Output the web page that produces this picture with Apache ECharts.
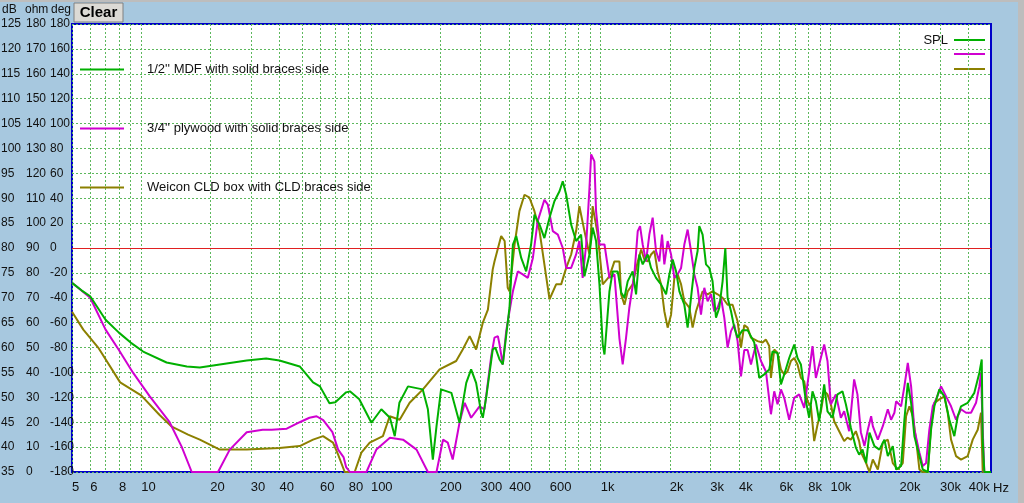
<!DOCTYPE html>
<html>
<head>
<meta charset="utf-8">
<script src="https://cdn.jsdelivr.net/npm/echarts@6/dist/echarts.min.js"></script>
<style>
html,body{margin:0;padding:0;background:#a7c8df;}
#chart{width:1024px;height:503px;}
</style>
</head>
<body>
<div id="chart"></div>
<script>
// names + colours
var names = ["1/2'' MDF with solid braces side", "3/4'' plywood with solid braces side", "Weicon CLD box with CLD braces side"];
var colors = ['#00b000', '#d000d0', '#8c8000'];

// x tick labels (Hz)
var xTickHz = [5, 6, 8, 10, 20, 30, 40, 60, 80, 100, 200, 300, 400, 600, 1000, 2000, 3000, 4000, 6000, 8000, 10000, 20000, 30000, 40000];
var xTickText = ['5', '6', '8', '10', '20', '30', '40', '60', '80', '100', '200', '300', '400', '600', '1k', '2k', '3k', '4k', '6k', '8k', '10k', '20k', '30k', '40k'];

// 1/2'' MDF (green)
var mdfHz = [5, 5.5, 6, 7, 8, 9, 10.2, 12.9, 15.8, 18, 22, 28.8, 35, 40, 49, 56, 60, 66, 70, 78, 81, 89, 100.5, 111, 121, 127, 133, 145, 168, 177, 186, 193, 202, 224, 243, 260, 273, 287, 302, 307, 318, 339, 348, 363, 375, 401, 415, 429, 451, 474, 498, 515, 542, 569, 599, 629, 662, 684, 708, 744, 782, 822, 850, 894, 923, 955, 988, 1021, 1039, 1092, 1128, 1186, 1230, 1269, 1311, 1378, 1426, 1474, 1524, 1602, 1657, 1742, 1831, 1926, 1991, 2058, 2129, 2201, 2313, 2391, 2473, 2557, 2642, 2687, 2778, 2874, 2971, 3070, 3177, 3284, 3394, 3488, 3569, 3693, 3816, 3944, 4147, 4360, 4662, 4901, 5152, 5417, 5599, 5887, 6091, 6295, 6617, 6958, 7191, 7440, 7822, 8085, 8356, 8646, 8937, 9396, 9712, 10209, 10732, 11285, 11676, 12274, 12902, 13337, 13800, 14305, 14785, 15543, 16340, 17180, 17775, 18687, 19318, 20307, 20988, 21718, 22450, 23201, 24396, 25234, 26530, 27420, 28344, 29800, 31330, 32935, 34622, 35823, 37028, 39594, 42309, 44479, 45565, 46020, 46766, 50000];
var mdfDb = [73.0, 71.5, 70.3, 65.6, 63, 61, 59.2, 57.0, 56.2, 56.0, 56.6, 57.4, 57.8, 57.4, 56.2, 53.0, 52.2, 48.8, 49.0, 51.0, 51.2, 49.6, 44.9, 47.6, 45.9, 42.2, 48.9, 52.2, 51.6, 47.6, 37.5, 44.2, 51.6, 50.9, 44.9, 52.9, 55.6, 52.9, 46.9, 45.9, 50.2, 59.6, 60.0, 57.6, 56.6, 68.0, 80.7, 82.4, 78.0, 75.3, 80.7, 86.7, 84.7, 82.0, 86.1, 89.4, 91.4, 93.4, 90.7, 84.7, 81.4, 82.7, 74.3, 78.7, 84.1, 81.4, 72.7, 60.6, 58.6, 71.3, 75.3, 75.3, 71.0, 70.0, 73.3, 75.3, 70.7, 78.7, 76.7, 78.7, 76.0, 74.0, 72.7, 70.7, 74.7, 77.7, 75.3, 71.3, 68.6, 64.0, 70.0, 76.0, 79.4, 84.4, 82.7, 76.7, 76.0, 73.3, 66.0, 68.0, 73.3, 80.0, 70.0, 67.3, 64.0, 62.0, 63.5, 63.5, 61.0, 53.9, 54.6, 55.6, 59.2, 58.9, 52.6, 54.6, 57.9, 60.6, 57.9, 56.6, 49.2, 45.9, 51.2, 49.2, 45.2, 52.6, 47.2, 45.9, 50.6, 51.2, 48.6, 43.9, 39.9, 38.5, 39.5, 36.8, 42.9, 40.2, 39.5, 41.5, 38.2, 40.2, 35.5, 36.2, 45.5, 52.9, 48.9, 42.2, 38.2, 35.5, 35, 43.5, 48.2, 51.6, 50.2, 45.5, 42.2, 46.2, 48.2, 48.9, 50.9, 54.9, 57.6, 41.5, 35, 35];

// 3/4'' plywood (magenta)
var plyHz = [5, 6, 7, 8, 9.2, 10.9, 13.3, 15, 16.6, 21.6, 24.3, 28.8, 33.8, 37, 43, 49, 54, 58, 62, 68, 72, 76, 78, 81, 95.6, 105.6, 121, 138, 158, 177, 193, 206, 216, 227, 243, 256, 273, 297, 312, 334, 345, 357, 363, 375, 388, 401, 415, 436, 458, 482, 507, 532, 569, 589, 619, 651, 684, 708, 744, 782, 808, 835, 865, 894, 909, 939, 955, 988, 1039, 1092, 1148, 1207, 1247, 1290, 1333, 1402, 1450, 1484, 1524, 1576, 1629, 1684, 1742, 1800, 1850, 1893, 1957, 2025, 2093, 2163, 2239, 2313, 2391, 2473, 2557, 2642, 2733, 2826, 2921, 3022, 3123, 3228, 3340, 3452, 3569, 3693, 3816, 3944, 4081, 4218, 4360, 4510, 4742, 4985, 5240, 5510, 5695, 5887, 6091, 6295, 6617, 6958, 7314, 7691, 8085, 8356, 8646, 8937, 9396, 9712, 10047, 10563, 11104, 11478, 12066, 12685, 13111, 13566, 14063, 14550, 15040, 15297, 16082, 16906, 17775, 18371, 18990, 19318, 20307, 20988, 21718, 22450, 23201, 24396, 25234, 26080, 26955, 27890, 28830, 30313, 31862, 33500, 35218, 37028, 38926, 40926, 43036, 44479, 45243, 46020, 46766, 50000];
var plyDb = [73.0, 70.0, 63.6, 59.5, 55, 50.2, 45, 40.1, 35, 35, 39.5, 43, 43.5, 43.5, 43.7, 45, 45.9, 46.2, 45.4, 43, 39.5, 38, 36, 35, 35, 39.5, 41.9, 41.5, 39.5, 35, 35, 41.5, 40.9, 37.5, 44.9, 48.9, 45.9, 48.2, 47.6, 58.3, 62.0, 62.3, 60.6, 56.6, 63.3, 67.3, 71.3, 75.3, 74.7, 74.0, 78.0, 85.4, 89.7, 88.7, 83.4, 82.7, 80.0, 76.0, 76.0, 78.7, 81.4, 74.0, 80.7, 92.1, 98.8, 97.4, 87.4, 80.7, 80.7, 74.0, 74.7, 61.8, 56.6, 62.0, 68.0, 74.7, 83.4, 84.4, 80.7, 77.3, 82.7, 86.1, 79.4, 77.3, 82.7, 76.7, 81.4, 78.7, 74.0, 74.7, 76.0, 80.7, 83.7, 79.4, 74.7, 72.0, 66.6, 72.0, 69.3, 70.7, 67.3, 68.0, 70.0, 66.0, 60.0, 63.3, 64.6, 61.3, 54.2, 59.5, 59.5, 56.6, 60.6, 57.3, 55.2, 46.6, 51.2, 48.6, 51.6, 49.9, 45.5, 49.9, 50.6, 47.9, 55.2, 60.3, 53.9, 56.6, 60.6, 57.3, 48.6, 50.6, 45.9, 47.2, 43.2, 53.6, 50.6, 43.0, 40.2, 43.5, 46.2, 44.2, 41.5, 44.2, 47.6, 45.5, 46.9, 49.2, 48.2, 52.2, 56.9, 52.2, 43.5, 38.9, 36.2, 36.8, 43.5, 48.2, 49.6, 52.2, 50.2, 48.2, 45.5, 47.6, 46.9, 46.9, 48.9, 52.2, 54.9, 43.5, 35, 35];

// Weicon CLD (olive)
var cldHz = [5, 5.6, 6.5, 8.1, 10, 12, 13.6, 16, 18, 22, 28.8, 40, 49, 56, 61.9, 68.4, 72, 76.9, 85, 90.9, 98.8, 112.8, 120.7, 133.4, 147.4, 168.4, 199, 235, 251, 269, 287, 307, 323, 339, 345, 369, 382, 394, 401, 422, 443, 466, 490, 515, 542, 569, 599, 640, 673, 708, 744, 782, 808, 850, 894, 923, 971, 1021, 1092, 1148, 1207, 1227, 1269, 1311, 1378, 1450, 1500, 1550, 1602, 1657, 1713, 1770, 1831, 1893, 1957, 2025, 2093, 2163, 2239, 2313, 2432, 2514, 2601, 2687, 2778, 2921, 3070, 3228, 3394, 3569, 3752, 3944, 4081, 4218, 4360, 4510, 4818, 5066, 5240, 5417, 5510, 5695, 5887, 6091, 6295, 6505, 6731, 6958, 7191, 7440, 7691, 7949, 8224, 8500, 8786, 9091, 9396, 9712, 10047, 10384, 10917, 11478, 11863, 12274, 12902, 13337, 13607, 14305, 14785, 15297, 16082, 16906, 17775, 18687, 19646, 20655, 21351, 22070, 22837, 23600, 24396, 25234, 26530, 27420, 28344, 29800, 31330, 32410, 33500, 35218, 37028, 39594, 41632, 43775, 45243, 46020, 50000];
var cldDb = [67.2, 63.6, 60, 53, 50.4, 46.5, 44.1, 42.5, 41.5, 39.5, 39.5, 39.8, 40.2, 41.5, 42.2, 40.9, 38.5, 35, 35, 38.9, 40.9, 42.2, 46.2, 45.5, 48.9, 51.6, 55.6, 57.3, 59.6, 62.3, 59.6, 65, 67.6, 75.7, 77.3, 82.4, 81.4, 72.0, 71.3, 80.7, 87.4, 90.7, 90.1, 87.4, 83.4, 76.7, 69.7, 72.7, 72.7, 76.0, 78.7, 83.4, 88.4, 83.4, 78.7, 88.4, 82.7, 72.7, 74.3, 77.3, 77.3, 70.7, 68.6, 71.3, 72.7, 77.3, 79.7, 77.7, 77.3, 78.7, 79.4, 75.3, 72.7, 67.3, 64.0, 66.6, 74.0, 74.7, 72.7, 69.3, 68.0, 64.0, 67.3, 69.3, 71.3, 70.7, 71.3, 70.7, 70.0, 68.6, 68.6, 65.3, 60.0, 64.5, 64.0, 62.0, 61.3, 61.0, 61.6, 60.3, 53.9, 59.6, 58.9, 55.6, 54.6, 55.2, 57.3, 57.9, 56.6, 53.9, 53.2, 49.2, 48.2, 41.2, 44.5, 47.2, 51.2, 50.6, 48.6, 45.2, 43.2, 41.2, 41.9, 41.5, 43.2, 41.2, 38.9, 36.8, 35, 37.5, 35.5, 40.9, 41.5, 36.8, 35.5, 36.8, 46.2, 48.2, 46.2, 41.5, 35.5, 35, 35, 44.2, 48.9, 49.6, 50.2, 46.9, 41.5, 38.2, 37.5, 38.2, 41.5, 43.5, 46.9, 35, 35];

var font = 'Liberation Sans, Arial, sans-serif';

// vertical grid lines 1..9 per decade, 5 Hz to 40 kHz
var xGridHz = [];
for (var dec = 1; dec <= 10000; dec *= 10) {
    for (var m = 1; m <= 9; m++) {
        if (m * dec >= 5 && m * dec < 50000) xGridHz.push(m * dec);
    }
}
function lg(v) { return Math.log10(v); }
function pairs(hz, db) { return hz.map(function (h, i) { return [h, db[i]]; }); }

var gridLine = {show: true, lineStyle: {color: '#5cb85c', width: 1, type: [2, 2]}};

var myChart = echarts.init(document.getElementById('chart'));

var seriesList = [
    {name: names[2], hz: cldHz, db: cldDb, c: colors[2]},
    {name: names[1], hz: plyHz, db: plyDb, c: colors[1]},
    {name: names[0], hz: mdfHz, db: mdfDb, c: colors[0]}
].map(function (s, i) {
    var o = {
        name: s.name, type: 'line', xAxisIndex: 0, yAxisIndex: 0,
        data: pairs(s.hz, s.db), symbol: 'none', showSymbol: false, clip: false,
        color: s.c, lineStyle: {color: s.c, width: 2}, animation: false, z: 3 + i
    };
    if (i === 0) {
        // 0 deg reference line
        o.markLine = {silent: true, symbol: ['none', 'none'], label: {show: false},
            lineStyle: {color: '#e02020', width: 1, type: 'solid'}, data: [{yAxis: 80}]};
    }
    return o;
});

var option = {
    backgroundColor: '#a7c8df',
    animation: false,
    textStyle: {fontFamily: font},
    grid: {left: 72, top: 24, width: 919, height: 448, show: true, backgroundColor: '#ffffff',
        borderColor: '#0000c8', borderWidth: 2, outerBoundsMode: 'none'},
    legend: {
        orient: 'vertical', left: 75, top: 58, itemWidth: 44, itemHeight: 2, icon: 'rect', itemGap: 46,
        data: names, selectedMode: false,
        textStyle: {fontFamily: font, fontSize: 13, color: '#111', padding: [0, 0, 0, 18]}
    },
    xAxis: [
        {type: 'log', logBase: 10, min: 5, max: 50000, show: false},
        {type: 'value', min: lg(5), max: lg(50000), position: 'bottom',
            axisLine: {show: false},
            axisTick: {show: false, customValues: xGridHz.map(lg)},
            axisLabel: {customValues: xTickHz.map(lg), align: 'left', margin: 9, fontSize: 13, color: '#111', fontFamily: font,
                formatter: function (v) {
                    for (var i = 0; i < xTickHz.length; i++) {
                        if (Math.abs(lg(xTickHz[i]) - v) < 1e-6) return xTickText[i];
                    }
                    return '';
                }},
            splitLine: gridLine}
    ],
    yAxis: [
        {type: 'value', min: 35, max: 125, interval: 5, position: 'left',
            axisLine: {show: false}, axisTick: {show: false}, splitLine: gridLine,
            axisLabel: {align: 'left', margin: 71, fontSize: 12, color: '#111', fontFamily: font}},
        {type: 'value', min: 0, max: 180, interval: 10, position: 'left',
            axisLine: {show: false}, axisTick: {show: false}, splitLine: {show: false},
            axisLabel: {align: 'left', margin: 46, fontSize: 12, color: '#111', fontFamily: font}},
        {type: 'value', min: -180, max: 180, interval: 20, position: 'left',
            axisLine: {show: false}, axisTick: {show: false}, splitLine: {show: false},
            axisLabel: {align: 'left', margin: 22, fontSize: 12, color: '#111', fontFamily: font}}
    ],
    graphic: [
        // window frame
        {type: 'rect', shape: {x: 0, y: 0, width: 1024, height: 2}, style: {fill: '#bdbdbd'}, silent: true},
        {type: 'rect', shape: {x: 1018, y: 0, width: 6, height: 503}, style: {fill: '#bdbdbd'}, silent: true},
        // axis headers
        {type: 'text', x: 2, y: 10, style: {text: 'dB', fill: '#111', font: '12px ' + font, verticalAlign: 'middle'}},
        {type: 'text', x: 25, y: 10, style: {text: 'ohm', fill: '#111', font: '12px ' + font, verticalAlign: 'middle'}},
        {type: 'text', x: 51, y: 10, style: {text: 'deg', fill: '#111', font: '12px ' + font, verticalAlign: 'middle'}},
        {type: 'text', x: 993, y: 488, style: {text: 'Hz', fill: '#111', font: '13px ' + font, verticalAlign: 'middle'}},
        // Clear button
        {type: 'rect', shape: {x: 74, y: 3, width: 49, height: 19}, style: {fill: '#dcdad5', stroke: '#808080', lineWidth: 1}},
        {type: 'text', x: 98.5, y: 13, style: {text: 'Clear', fill: '#000', font: 'bold 15px ' + font, align: 'center', verticalAlign: 'middle'}},
        // SPL key
        {type: 'text', x: 948, y: 40, style: {text: 'SPL', fill: '#111', font: '13px ' + font, align: 'right', verticalAlign: 'middle'}},
        {type: 'line', shape: {x1: 954, y1: 40, x2: 985, y2: 40}, style: {stroke: colors[0], lineWidth: 2}},
        {type: 'line', shape: {x1: 954, y1: 54, x2: 985, y2: 54}, style: {stroke: colors[1], lineWidth: 2}},
        {type: 'line', shape: {x1: 954, y1: 69, x2: 985, y2: 69}, style: {stroke: colors[2], lineWidth: 2}}
    ],
    series: seriesList
};

myChart.setOption(option);
</script>
</body>
</html>
